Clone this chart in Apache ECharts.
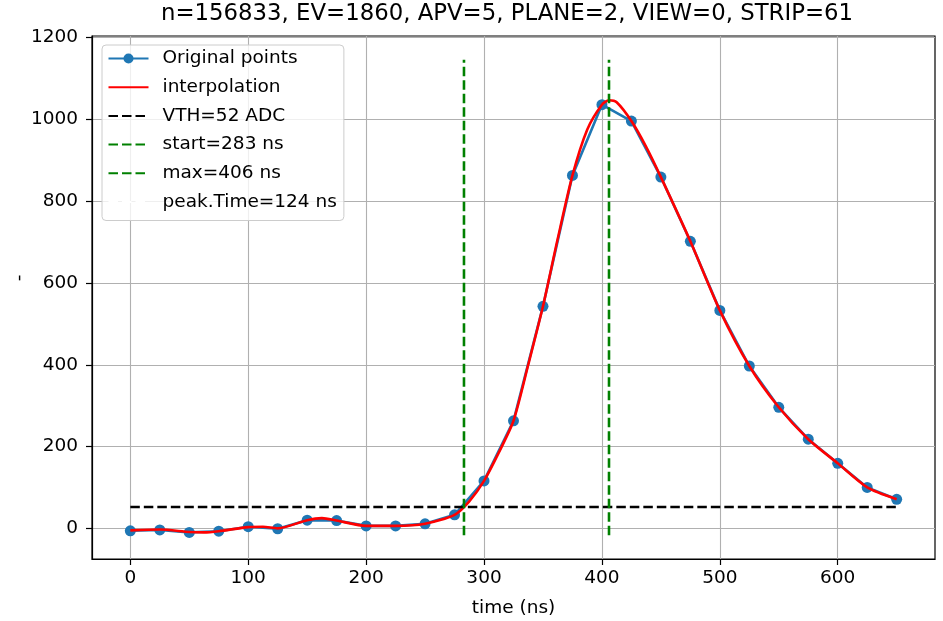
<!DOCTYPE html>
<html>
<head>
<meta charset="utf-8">
<script src="https://cdn.jsdelivr.net/npm/echarts@6/dist/echarts.min.js"></script>
<style>
html,body{margin:0;padding:0;background:#fff;}
#chart{width:943px;height:621px;}
</style>
</head>
<body>
<div id="chart"></div>
<script>
// ---- data ----
const timeNs = [0,25,50,75,100,125,150,175,200,225,250,275,300,325,350,375,400,425,450,475,500,525,550,575,600,625,650];
const adcValues = [-6,-4,-10,-7,4,-1,20,19,6,6,11,33,116,263,543,863,1036,996,859,702,533,397,296,218,159,100,71];
const interpTime = [0,25,50,62.5,75,100,112.5,125,150,162.5,175,200,225,250,275,287.5,300,312.5,325,337.5,350,362.5,375,387.5,400,406,412.5,425,437.5,450,475,500,525,550,575,600,625,650];
const interpValues = [-5,-3,-9,-10,-7,3,4,0,20,25,19,6,6,11,33,66,116,185,263,400,543,708,863,975,1036,1047,1042,996,933,859,702,533,397,296,218,159,100,71];
const vthValue = 52;
const vthRange = [0, 650];
const startNs = 283;
const maxNs = 406;
const vLineRange = [-17, 1146];
const xTicks = [0,100,200,300,400,500,600];
const yTicks = [0,200,400,600,800,1000,1200];
const legendNames = ['Original points','interpolation','VTH=52 ADC','start=283 ns','max=406 ns','peak.Time=124 ns'];
const titleText = 'n=156833, EV=1860, APV=5, PLANE=2, VIEW=0, STRIP=61';
const xLabel = 'time (ns)';
const yLabel = '-';

const FONT = 'DejaVu Sans';
const FS = 18.5;
const LW = 2.6;
const DASH = [9.5, 4];
const chart = echarts.init(document.getElementById('chart'), null, {renderer:'canvas'});

const hiddenMarker = {color: 'rgba(0,0,0,0)', borderWidth: 0, opacity: 0};

const option = {
  animation: false,
  backgroundColor: '#ffffff',
  title: {
    text: titleText, left: 507, top: 3, textAlign: 'center', padding: 0,
    textStyle: {fontFamily: FONT, fontSize: 22.8, fontWeight: 'normal', color: '#000'}
  },
  grid: {left: 92, right: 8, top: 36, bottom: 62, show: true, borderColor: '#000', borderWidth: 1.2, backgroundColor: 'transparent', containLabel: false, outerBoundsMode: 'none'},
  legend: {
    orient: 'vertical', left: 102, top: 45,
    padding: [3, 7, 8, 5.5],
    itemWidth: 40, itemHeight: 12.5, itemGap: 7.7,
    backgroundColor: 'rgba(255,255,255,0.8)', borderColor: '#cccccc', borderWidth: 1, borderRadius: 4,
    textStyle: {fontFamily: FONT, fontSize: FS, color: '#000', lineHeight: 21, padding: [0,0,0,9]},
    data: legendNames.map((n, i) => i === 0 ? {name: n} : {name: n, itemStyle: hiddenMarker}),
    selectedMode: false
  },
  xAxis: {
    type: 'value', min: -32.5, max: 682.5,
    name: xLabel, nameLocation: 'middle', nameGap: 40,
    nameTextStyle: {fontFamily: FONT, fontSize: FS, color: '#000'},
    axisLine: {show: true, onZero: false, lineStyle: {color: '#000', width: 1.2}},
    axisTick: {show: true, length: 6, inside: false, customValues: xTicks, lineStyle: {color: '#000', width: 1.2}},
    axisLabel: {customValues: xTicks, margin: 10, fontFamily: FONT, fontSize: FS, color: '#000', formatter: v => String(v)},
    splitLine: {show: true, lineStyle: {color: '#b0b0b0', width: 1.1}}
  },
  yAxis: {
    type: 'value', min: -75, max: 1204,
    axisLine: {show: true, onZero: false, lineStyle: {color: '#000', width: 1.2}},
    axisTick: {show: true, length: 6, customValues: yTicks, lineStyle: {color: '#000', width: 1.2}},
    axisLabel: {customValues: yTicks, margin: 14, fontFamily: FONT, fontSize: FS, color: '#000', formatter: v => String(v)},
    splitLine: {show: true, lineStyle: {color: '#b0b0b0', width: 1.1}}
  },
  graphic: [{
    type: 'text', x: 19, y: 278, rotation: Math.PI/2,
    style: {text: yLabel, fontFamily: FONT, fontSize: FS, fill: '#000', align: 'center', verticalAlign: 'middle'}
  }],
  series: [
    {
      name: legendNames[0], type: 'line',
      data: timeNs.map((t,i) => [t, adcValues[i]]),
      symbol: 'circle', symbolSize: 11, showSymbol: true,
      itemStyle: {color: '#1f77b4'},
      lineStyle: {color: '#1f77b4', width: LW},
      clip: false, z: 2
    },
    {
      name: legendNames[1], type: 'line',
      data: interpTime.map((t,i) => [t, interpValues[i]]),
      symbol: 'none', smooth: 0.25,
      itemStyle: {color: '#ff0000'},
      lineStyle: {color: '#ff0000', width: LW},
      clip: false, z: 3
    },
    {
      name: legendNames[2], type: 'line',
      data: vthRange.map(t => [t, vthValue]),
      symbol: 'none',
      itemStyle: {color: '#000'},
      lineStyle: {color: '#000', width: LW, type: DASH},
      z: 4
    },
    {
      name: legendNames[3], type: 'line',
      data: vLineRange.map(v => [startNs, v]),
      symbol: 'none',
      itemStyle: {color: '#008000'},
      lineStyle: {color: '#008000', width: LW, type: DASH},
      z: 5
    },
    {
      name: legendNames[4], type: 'line',
      data: vLineRange.map(v => [maxNs, v]),
      symbol: 'none',
      itemStyle: {color: '#008000'},
      lineStyle: {color: '#008000', width: LW, type: DASH},
      z: 6
    },
    {
      name: legendNames[5], type: 'line',
      data: [],
      symbol: 'none',
      itemStyle: {color: '#ffffff'},
      lineStyle: {color: '#ffffff', width: LW, type: DASH},
      z: 1
    }
  ]
};
chart.setOption(option);
</script>
</body>
</html>
